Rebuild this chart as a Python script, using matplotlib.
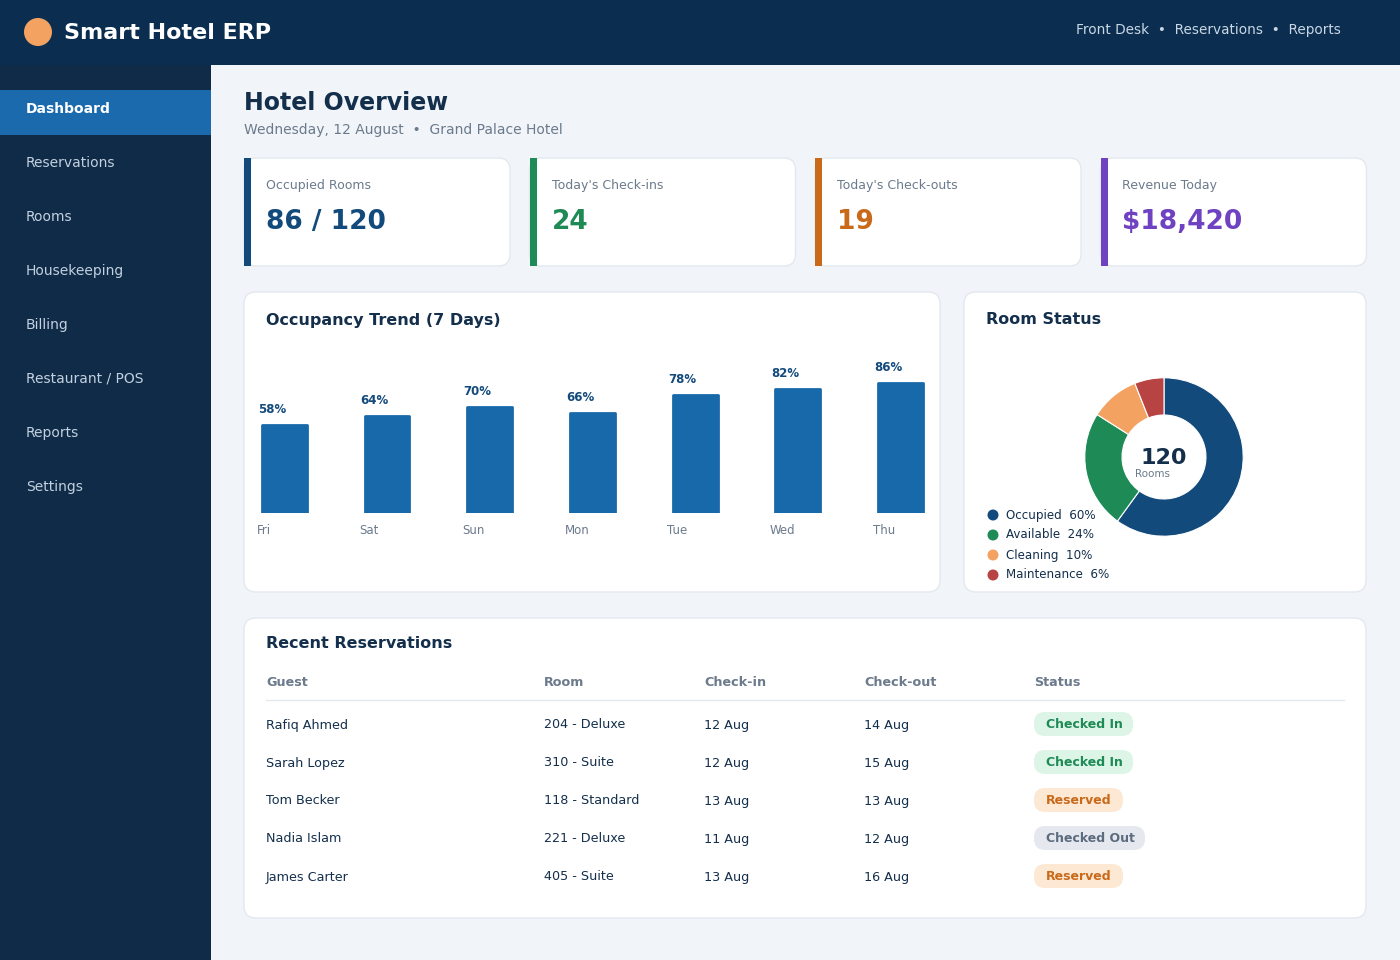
import matplotlib
matplotlib.use("Agg")
import matplotlib.pyplot as plt
from matplotlib.patches import FancyBboxPatch, Rectangle, Circle

days = ["Fri", "Sat", "Sun", "Mon", "Tue", "Wed", "Thu"]
occupancy = [58, 64, 70, 66, 78, 82, 86]
status_labels = ["Occupied", "Available", "Cleaning", "Maintenance"]
status_values = [60, 24, 10, 6]
status_colors = ["#134a7c", "#1e8a56", "#f4a261", "#b84343"]
kpi_labels = ["Occupied Rooms", "Today's Check-ins", "Today's Check-outs", "Revenue Today"]
kpi_values = ["86 / 120", "24", "19", "$18,420"]
kpi_colors = ["#134a7c", "#1e8a56", "#c96a1b", "#6f42c1"]
nav_items = ["Dashboard", "Reservations", "Rooms", "Housekeeping", "Billing",
             "Restaurant / POS", "Reports", "Settings"]
res_cols = ["Guest", "Room", "Check-in", "Check-out", "Status"]
res_rows = [
    ["Rafiq Ahmed", "204 - Deluxe", "12 Aug", "14 Aug", "Checked In"],
    ["Sarah Lopez", "310 - Suite", "12 Aug", "15 Aug", "Checked In"],
    ["Tom Becker", "118 - Standard", "13 Aug", "13 Aug", "Reserved"],
    ["Nadia Islam", "221 - Deluxe", "11 Aug", "12 Aug", "Checked Out"],
    ["James Carter", "405 - Suite", "13 Aug", "16 Aug", "Reserved"],
]
badge_style = {"Checked In": ("#dcf5e7", "#1e8a56"),
               "Reserved": ("#fde8d3", "#c96a1b"),
               "Checked Out": ("#e5e9ef", "#5c6b7e")}

W, H = 1400, 960
fig = plt.figure(figsize=(14, 9.6), dpi=100)
fig.patch.set_facecolor("#f1f5f9")
ax = fig.add_axes([0, 0, 1, 1])
ax.set_xlim(0, W); ax.set_ylim(H, 0); ax.axis("off")

def card(x, y, w, h):
    ax.add_patch(FancyBboxPatch((x, y), w, h, boxstyle="round,pad=0,rounding_size=12",
                                fc="white", ec="#e3e8ef", lw=1))

# header & sidebar
ax.add_patch(Rectangle((0, 0), W, 65, fc="#0b2e50", ec="none"))
ax.add_patch(Rectangle((0, 65), 211, H - 65, fc="#0f2b48", ec="none"))
ax.add_patch(Circle((38, 32), 14, fc="#f4a261", ec="none"))
ax.text(64, 33, "Smart Hotel ERP", color="white", fontsize=16, fontweight="bold", va="center")
ax.text(1341, 30, "Front Desk  •  Reservations  •  Reports", color="#c9d6e4",
        fontsize=9.8, va="center", ha="right")
ax.add_patch(Rectangle((0, 90), 211, 45, fc="#1a6aad", ec="none"))
for i, item in enumerate(nav_items):
    y = 109 + i * 54
    ax.text(26, y, item, color="white" if i == 0 else "#c2d0df", fontsize=10,
            fontweight="bold" if i == 0 else "normal", va="center")

ax.text(244, 103, "Hotel Overview", color="#132f4c", fontsize=17, fontweight="bold", va="center")
ax.text(244, 130, "Wednesday, 12 August  •  Grand Palace Hotel", color="#6b7a8c",
        fontsize=10, va="center")

# KPI cards
for i in range(4):
    x = 244 + i * 285.5
    card(x, 158, 266, 108)
    ax.add_patch(Rectangle((x, 158), 7, 108, fc=kpi_colors[i], ec="none"))
    ax.text(x + 22, 185, kpi_labels[i], color="#6b7a8c", fontsize=9, va="center")
    ax.text(x + 22, 222, kpi_values[i], color=kpi_colors[i], fontsize=19,
            fontweight="bold", va="center")

# Occupancy card
card(244, 292, 696, 300)
ax.text(266, 320, "Occupancy Trend (7 Days)", color="#132f4c", fontsize=11.5,
        fontweight="bold", va="center")
bx = fig.add_axes([233 / W, 1 - 513 / H, 718.7 / W, 151 / H])
bx.set_xlim(-0.5, 6.5); bx.set_ylim(0, 100); bx.axis("off")
bw = 0.438
bars = bx.bar(range(len(days)), occupancy, width=bw, color="#1769aa")
for p in bars:
    p.set_joinstyle("round"); p.set_edgecolor("#1769aa"); p.set_linewidth(2)
for i, (d, v) in enumerate(zip(days, occupancy)):
    bx.text(i - bw / 2 - 0.04, v + 6, f"{v}%", color="#134a7c", fontsize=8.5,
            fontweight="bold", va="bottom", ha="left")
    bx.text(i - bw / 2 - 0.05, -7, d, color="#6b7a8c", fontsize=8.5, va="top", ha="left")

# Room status card
card(964, 292, 402, 300)
ax.text(986, 320, "Room Status", color="#132f4c", fontsize=11.5, fontweight="bold", va="center")
dx = fig.add_axes([(1164 - 80) / W, 1 - (457 + 80) / H, 160 / W, 160 / H])
dx.pie(status_values, colors=status_colors, startangle=90, counterclock=False,
       radius=1, wedgeprops=dict(width=0.47, edgecolor="white", linewidth=0.8))
dx.set_xlim(-1.01, 1.01); dx.set_ylim(-1.01, 1.01); dx.set_aspect("equal")
ax.text(1164, 458, "120", color="#132f4c", fontsize=16, fontweight="bold", ha="center", va="center")
ax.text(1153, 474, "Rooms", color="#6b7a8c", fontsize=7.5, ha="center", va="center")
for i, (l, v, c) in enumerate(zip(status_labels, status_values, status_colors)):
    y = 515 + i * 20
    ax.add_patch(Circle((993, y), 5.5, fc=c, ec="none"))
    ax.text(1006, y, f"{l}  {v}%", color="#132f4c", fontsize=8.6, va="center")

# Reservations table
card(244, 618, 1122, 300)
ax.text(266, 643, "Recent Reservations", color="#132f4c", fontsize=11.5, fontweight="bold", va="center")
col_x = [266, 544, 704, 864, 1034]
for cx, c in zip(col_x, res_cols):
    ax.text(cx, 683, c, color="#6b7a8c", fontsize=9.2, fontweight="bold", va="center")
ax.plot([266, 1344], [700, 700], color="#e3e8ef", lw=1)
for r, row in enumerate(res_rows):
    y = 724 + r * 38
    for cx, val in zip(col_x[:4], row[:4]):
        ax.text(cx, y + 1, val, color="#132f4c", fontsize=9.2, va="center")
    bg, fg = badge_style[row[4]]
    bwid = 99 if row[4] == "Checked In" else (89 if row[4] == "Reserved" else 111)
    ax.add_patch(FancyBboxPatch((1034, y - 12), bwid, 24,
                                boxstyle="round,pad=0,rounding_size=11", fc=bg, ec="none"))
    ax.text(1046, y, row[4], color=fg, fontsize=9, fontweight="bold", va="center")

fig.savefig("out.png", dpi=100, facecolor=fig.get_facecolor())
